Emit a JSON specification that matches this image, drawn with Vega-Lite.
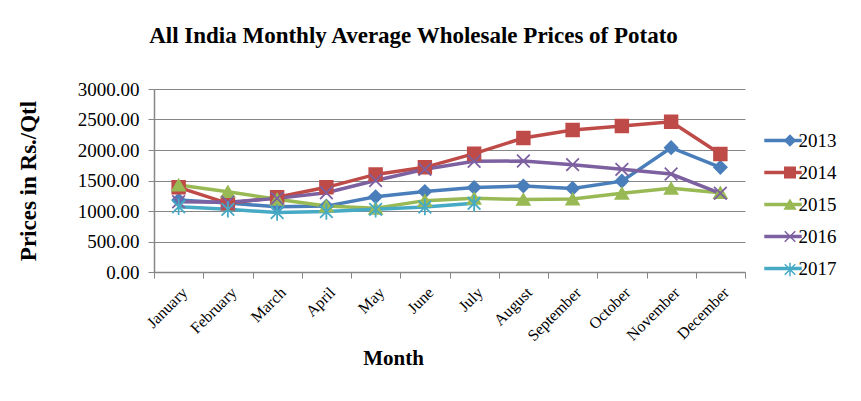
{
  "$schema": "https://vega.github.io/schema/vega-lite/v6.json",
  "width": 591,
  "height": 183,
  "autosize": {"type": "none"},
  "padding": {"left": 154, "top": 89, "right": 116, "bottom": 129},
  "background": "white",
  "title": {
    "text": "All India Monthly Average Wholesale Prices of Potato",
    "font": "Liberation Serif",
    "fontSize": 23,
    "fontWeight": "bold",
    "color": "black",
    "anchor": "middle",
    "dx": -36,
    "offset": 32
  },
  "config": {
    "view": {"stroke": null},
    "font": "Liberation Serif",
    "axis": {"labelFont": "Liberation Serif", "titleFont": "Liberation Serif"},
    "legend": {"labelFont": "Liberation Serif", "padding": 0}
  },
  "data": {
    "values": [
      {"month": "January", "year": "2013", "price": 1180},
      {"month": "February", "year": "2013", "price": 1130},
      {"month": "March", "year": "2013", "price": 1070},
      {"month": "April", "year": "2013", "price": 1080},
      {"month": "May", "year": "2013", "price": 1234},
      {"month": "June", "year": "2013", "price": 1320},
      {"month": "July", "year": "2013", "price": 1385},
      {"month": "August", "year": "2013", "price": 1410},
      {"month": "September", "year": "2013", "price": 1370},
      {"month": "October", "year": "2013", "price": 1490},
      {"month": "November", "year": "2013", "price": 2038},
      {"month": "December", "year": "2013", "price": 1716},
      {"month": "January", "year": "2014", "price": 1388},
      {"month": "February", "year": "2014", "price": 1126},
      {"month": "March", "year": "2014", "price": 1224},
      {"month": "April", "year": "2014", "price": 1388},
      {"month": "May", "year": "2014", "price": 1600},
      {"month": "June", "year": "2014", "price": 1716},
      {"month": "July", "year": "2014", "price": 1940},
      {"month": "August", "year": "2014", "price": 2196},
      {"month": "September", "year": "2014", "price": 2327},
      {"month": "October", "year": "2014", "price": 2393},
      {"month": "November", "year": "2014", "price": 2464},
      {"month": "December", "year": "2014", "price": 1934},
      {"month": "January", "year": "2015", "price": 1425},
      {"month": "February", "year": "2015", "price": 1317},
      {"month": "March", "year": "2015", "price": 1191},
      {"month": "April", "year": "2015", "price": 1082},
      {"month": "May", "year": "2015", "price": 1044},
      {"month": "June", "year": "2015", "price": 1170},
      {"month": "July", "year": "2015", "price": 1207},
      {"month": "August", "year": "2015", "price": 1190},
      {"month": "September", "year": "2015", "price": 1195},
      {"month": "October", "year": "2015", "price": 1290},
      {"month": "November", "year": "2015", "price": 1372},
      {"month": "December", "year": "2015", "price": 1300},
      {"month": "January", "year": "2016", "price": 1152},
      {"month": "February", "year": "2016", "price": 1145},
      {"month": "March", "year": "2016", "price": 1207},
      {"month": "April", "year": "2016", "price": 1300},
      {"month": "May", "year": "2016", "price": 1500},
      {"month": "June", "year": "2016", "price": 1683},
      {"month": "July", "year": "2016", "price": 1814},
      {"month": "August", "year": "2016", "price": 1819},
      {"month": "September", "year": "2016", "price": 1760},
      {"month": "October", "year": "2016", "price": 1683},
      {"month": "November", "year": "2016", "price": 1606},
      {"month": "December", "year": "2016", "price": 1290},
      {"month": "January", "year": "2017", "price": 1070},
      {"month": "February", "year": "2017", "price": 1027},
      {"month": "March", "year": "2017", "price": 975},
      {"month": "April", "year": "2017", "price": 990},
      {"month": "May", "year": "2017", "price": 1027},
      {"month": "June", "year": "2017", "price": 1065},
      {"month": "July", "year": "2017", "price": 1126}
    ]
  },
  "encoding": {
    "x": {
      "field": "month",
      "type": "nominal",
      "sort": ["January","February","March","April","May","June","July","August","September","October","November","December"],
      "bandPosition": 0.5,
      "scale": {"type": "band", "paddingInner": 0, "paddingOuter": 0},
      "axis": {
        "title": "Month",
        "titleFont": "Liberation Serif",
        "titleFontSize": 21,
        "titleFontWeight": "bold",
        "titleColor": "black",
        "titleX": 239,
        "titleY": 92,
        "titleBaseline": "alphabetic",
        "labelAngle": -45,
        "labelFont": "Liberation Serif",
        "labelFontSize": 16,
        "labelColor": "black",
        "labelPadding": 6,
        "tickBand": "extent",
        "tickSize": 6,
        "tickColor": "#868686",
        "domainColor": "#868686",
        "domainWidth": 1.5,
        "grid": false
      }
    },
    "y": {
      "field": "price",
      "type": "quantitative",
      "scale": {"domain": [0, 3000], "nice": false},
      "axis": {
        "title": "Prices in Rs./Qtl",
        "titleFont": "Liberation Serif",
        "titleFontSize": 23,
        "titleFontWeight": "bold",
        "titleColor": "black",
        "titlePadding": 37,
        "values": [0, 500, 1000, 1500, 2000, 2500, 3000],
        "format": ".2f",
        "labelFont": "Liberation Serif",
        "labelFontSize": 19,
        "labelColor": "black",
        "labelPadding": 9,
        "tickSize": 6,
        "tickColor": "#868686",
        "domainColor": "#868686",
        "domainWidth": 1.5,
        "gridColor": "#868686",
        "gridWidth": 1
      }
    }
  },
  "layer": [
    {
      "mark": {"type": "line", "strokeWidth": 3.5},
      "encoding": {
        "color": {
          "field": "year",
          "type": "nominal",
          "scale": {"domain": ["2013","2014","2015","2016","2017"], "range": ["#4A7EBB","#BE4B48","#98B954","#7D60A0","#46AAC5"]},
          "legend": {
            "title": null,
            "orient": "none",
            "legendX": 619.5,
            "legendY": 42,
            "symbolType": "M-4.68,0H4.68",
            "symbolSize": 64,
            "symbolStrokeWidth": 3.5,
            "labelFont": "Liberation Serif",
            "labelFontSize": 19,
            "labelColor": "black",
            "labelOffset": 6,
            "rowPadding": 12
          }
        }
      }
    },
    {
      "mark": {"type": "point", "filled": true, "size": 160, "strokeWidth": 1.8, "opacity": 1},
      "encoding": {
        "fill": {
          "field": "year",
          "type": "nominal",
          "scale": {"domain": ["2013","2014","2015","2016","2017"], "range": ["#4A7EBB","#BE4B48","#98B954","#7D60A0","#46AAC5"]},
          "legend": {
            "title": null,
            "orient": "none",
            "legendX": 626.5,
            "legendY": 42,
            "symbolSize": 110,
            "symbolStrokeWidth": 1.5,
            "symbolOpacity": 1,
            "labelExpr": "''",
            "labelFontSize": 19,
            "rowPadding": 12
          }
        },
        "stroke": {
          "field": "year",
          "type": "nominal",
          "scale": {"domain": ["2013","2014","2015","2016","2017"], "range": ["#4A7EBB","#BE4B48","#98B954","#7D60A0","#46AAC5"]},
          "legend": {
            "title": null,
            "orient": "none",
            "legendX": 626.5,
            "legendY": 42,
            "symbolSize": 110,
            "symbolStrokeWidth": 1.5,
            "symbolOpacity": 1,
            "labelExpr": "''",
            "labelFontSize": 19,
            "rowPadding": 12
          }
        },
        "shape": {
          "field": "year",
          "type": "nominal",
          "scale": {"domain": ["2013","2014","2015","2016","2017"], "range": ["diamond","square","triangle-up","M-1,-1L1,1M-1,1L1,-1","M-1,-1L1,1M-1,1L1,-1M0,-1.3L0,1.3"]},
          "legend": {
            "title": null,
            "orient": "none",
            "legendX": 626.5,
            "legendY": 42,
            "symbolSize": 110,
            "symbolStrokeWidth": 1.5,
            "symbolOpacity": 1,
            "labelExpr": "''",
            "labelFontSize": 19,
            "rowPadding": 12
          }
        }
      }
    }
  ],
  "resolve": {"legend": {"color": "independent"}}
}
